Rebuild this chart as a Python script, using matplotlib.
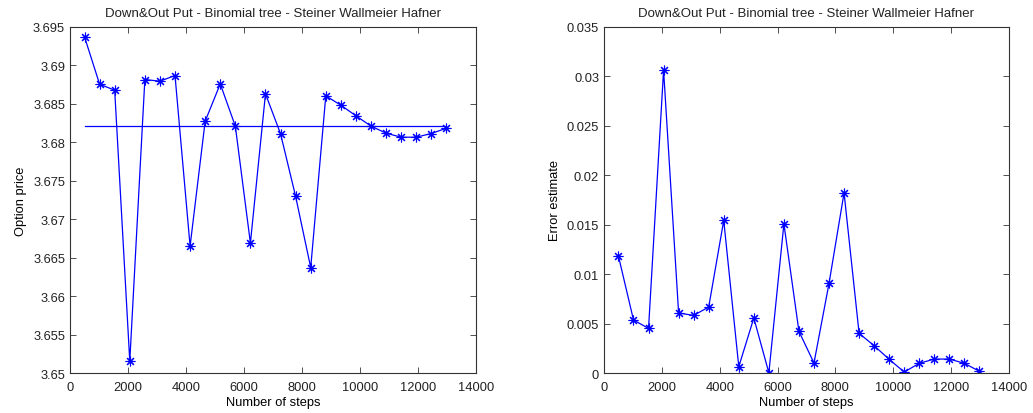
import numpy as np
import matplotlib
matplotlib.use("Agg")
import matplotlib.pyplot as plt
from matplotlib.ticker import FormatStrFormatter

plt.rcParams['font.family'] = ['Liberation Sans', 'DejaVu Sans']

# data
steps = [500 + 520 * k for k in range(25)]
price = [3.6937, 3.68755, 3.68677, 3.65152, 3.68816, 3.68794, 3.68868, 3.6665,
         3.68274, 3.68759, 3.6821, 3.6669, 3.6863, 3.6811, 3.67295, 3.6637,
         3.68604, 3.68482, 3.68344, 3.6821, 3.68118, 3.68066, 3.68066, 3.68114,
         3.68183]
ref_price = 3.6821
err = [0.01182, 0.00536, 0.00451, 0.03062, 0.00606, 0.00583, 0.00667, 0.01543,
       0.00064, 0.00556, 0.00002, 0.01509, 0.00421, 0.00101, 0.00906, 0.01822,
       0.00401, 0.00276, 0.00138, 0.0001, 0.00098, 0.00141, 0.00141, 0.00098,
       0.00017]

title = "Down&Out Put - Binomial tree - Steiner Wallmeier Hafner"
fs = 9.3
star = (8, 2, 0)  # matlab style asterisk

fig = plt.figure(figsize=(10.33, 4.14), dpi=100)
ax1 = fig.add_axes([0.0678, 0.0966, 0.393, 0.836])
ax2 = fig.add_axes([0.5847, 0.0966, 0.392, 0.836])

ax1.plot(steps, price, '-', color='blue', lw=0.9, marker=star, ms=7, mew=0.8)
ax1.plot([steps[0], steps[-1]], [ref_price, ref_price], '-', color='blue', lw=0.9)
ax1.set_xlim(0, 14000)
ax1.set_ylim(3.65, 3.695)
ax1.set_yticks(np.arange(3.65, 3.6951, 0.005))
ax1.set_ylabel("Option price", fontsize=fs)

ax2.plot(steps, err, '-', color='blue', lw=0.9, marker=star, ms=7, mew=0.8)
ax2.set_xlim(0, 14000)
ax2.set_ylim(0, 0.035)
ax2.set_yticks(np.arange(0, 0.0351, 0.005))
ax2.set_ylabel("Error estimate", fontsize=fs)

for ax in (ax1, ax2):
    ax.set_xticks(range(0, 14001, 2000))
    ax.yaxis.set_major_formatter(FormatStrFormatter('%g'))
    ax.set_xlabel("Number of steps", fontsize=fs, labelpad=2)
    ax.set_title(title, fontsize=fs + 0.2, pad=8, color='#222222')
    ax.tick_params(direction='in', top=True, right=True, length=4,
                   labelsize=fs, width=0.6, color='#333333',
                   labelcolor='#222222')
    ax.tick_params(axis='x', pad=6)
    for s in ax.spines.values():
        s.set_linewidth(0.8)
        s.set_color('#333333')

fig.savefig("out.png", dpi=100)
